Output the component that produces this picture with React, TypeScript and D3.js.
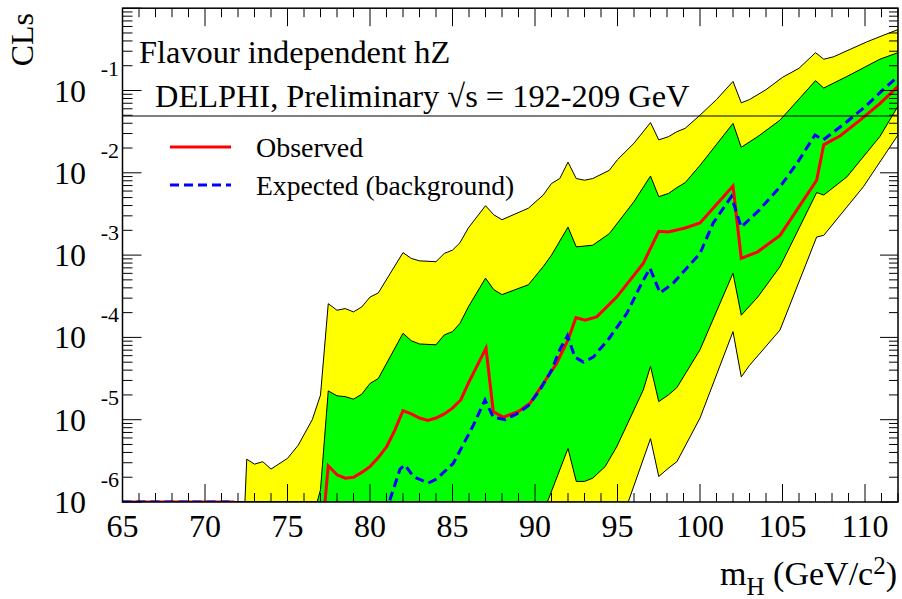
import React from 'react';
import * as d3 from 'd3';

// ---- data (mass in GeV/c^2, log10 of CLs) ----
const massTickLabels = [65, 70, 75, 80, 85, 90, 95, 100, 105, 110];
const decadeExponents = [-1, -2, -3, -4, -5, -6];

const yellowTopLog: [number, number][] = [
  [65, -6], [72.42, -6], [72.53, -5.48], [73.0, -5.54], [73.5, -5.51], [74.0, -5.6], [75.0, -5.47],
  [75.65, -5.31], [76.5, -5.0], [77.0, -4.7], [77.47, -3.59], [78.0, -3.67], [78.5, -3.65], [79.0, -3.69],
  [79.5, -3.63], [80.0, -3.51], [80.5, -3.46], [82.0, -2.97], [82.5, -3.04], [83.0, -3.07], [84.0, -3.08],
  [84.5, -2.98], [85.0, -2.94], [85.45, -2.85], [85.96, -2.67], [87.0, -2.4], [87.5, -2.51], [88.0, -2.57],
  [89.6, -2.43], [90.5, -2.27], [91.0, -2.13], [91.5, -2.07], [92.0, -1.87], [92.5, -2.07], [93.0, -2.09],
  [93.5, -2.07], [94.5, -1.97], [95.0, -1.84], [96.0, -1.64], [97.0, -1.39], [97.5, -1.6], [98.1, -1.56],
  [98.6, -1.5], [99.1, -1.46], [100.0, -1.3], [101.0, -1.11], [102.0, -0.89], [102.5, -1.15], [103.0, -1.11],
  [104.0, -0.99], [105.0, -0.84], [106.0, -0.73], [107.0, -0.54], [107.5, -0.62], [108.1, -0.59],
  [109.1, -0.5], [110.1, -0.41], [111.1, -0.33], [112.0, -0.26],
];

const greenTopLog: [number, number][] = [
  [65, -6], [76.8, -6], [77.0, -5.85], [77.47, -4.65], [78.0, -4.71], [78.5, -4.72], [79.0, -4.75],
  [79.5, -4.69], [80.0, -4.56], [80.5, -4.5], [82.0, -3.95], [82.5, -4.04], [83.0, -4.08], [84.0, -4.09],
  [84.5, -3.97], [85.0, -3.93], [85.45, -3.83], [85.96, -3.63], [87.0, -3.28], [87.5, -3.42], [88.0, -3.48],
  [89.6, -3.36], [90.5, -3.14], [91.0, -3.0], [92.0, -2.66], [92.5, -2.9], [93.5, -2.88], [94.5, -2.74],
  [95.0, -2.61], [96.0, -2.35], [97.0, -2.04], [97.5, -2.29], [98.1, -2.25], [98.6, -2.18], [99.1, -2.12],
  [100.0, -1.91], [102.0, -1.4], [102.5, -1.69], [103.5, -1.56], [104.85, -1.36], [107.0, -0.88],
  [107.5, -0.97], [108.9, -0.83], [110.9, -0.62], [112.0, -0.54],
];

const greenBottomLog: [number, number][] = [
  [65, -6], [90.75, -6], [92.0, -5.35], [92.5, -5.75], [93.0, -5.75], [93.5, -5.71], [94.25, -5.57],
  [94.95, -5.33], [96.56, -4.64], [97.0, -4.35], [97.5, -4.78], [98.08, -4.7], [98.6, -4.61], [100.0, -4.15],
  [102.0, -3.22], [102.5, -3.73], [103.5, -3.51], [104.85, -3.14], [107.07, -2.24], [107.5, -2.27],
  [108.9, -2.05], [110.9, -1.56], [112.0, -1.19],
];

const yellowBottomLog: [number, number][] = [
  [65, -6], [95.65, -6], [97.0, -5.23], [97.5, -5.69], [98.08, -5.59], [98.6, -5.51], [100.0, -4.98],
  [102.0, -3.93], [102.5, -4.48], [103.0, -4.34], [104.85, -3.91], [107.07, -2.78], [107.5, -2.76],
  [109.9, -2.17], [112.0, -1.54],
];

const observedLog: [number, number][] = [
  [65, -6], [71.7, -6], [72.2, -6.6], [77.0, -6.6], [77.47, -5.56], [78.0, -5.67], [78.5, -5.71],
  [79.0, -5.7], [79.5, -5.64], [80.0, -5.57], [80.5, -5.46], [81.0, -5.33], [81.5, -5.13], [82.0, -4.89],
  [82.5, -4.93], [83.0, -4.98], [83.5, -5.01], [84.0, -4.98], [84.5, -4.93], [85.0, -4.86], [85.5, -4.76],
  [86.0, -4.54], [87.03, -4.13], [87.47, -4.9], [88.08, -4.97], [89.0, -4.9], [89.7, -4.8], [90.5, -4.56],
  [91.3, -4.32], [92.0, -4.03], [92.48, -3.76], [93.03, -3.79], [93.74, -3.75], [94.95, -3.51],
  [96.56, -3.1], [97.5, -2.71], [98.08, -2.72], [99.1, -2.67], [100.0, -2.61], [102.0, -2.16],
  [102.5, -3.04], [103.5, -2.96], [104.85, -2.76], [107.07, -2.09], [107.5, -1.66], [108.5, -1.55],
  [109.7, -1.36], [110.9, -1.16], [112.0, -0.95],
];

const expectedLog: [number, number][] = [
  [65, -6], [71.7, -6], [72.2, -6.6], [80.5, -6.6], [81.0, -6.1], [81.82, -5.6], [82.12, -5.55],
  [82.62, -5.69], [83.53, -5.77], [84.04, -5.72], [85.05, -5.53], [86.26, -5.07], [86.97, -4.76],
  [87.47, -4.97], [88.18, -5.0], [88.89, -4.93], [89.6, -4.83], [90.3, -4.64], [91.0, -4.4], [91.5, -4.15],
  [91.97, -3.98], [92.42, -4.24], [92.93, -4.3], [93.53, -4.24], [94.5, -4.01], [95.56, -3.71],
  [96.47, -3.34], [96.97, -3.16], [97.58, -3.46], [98.38, -3.34], [99.19, -3.16], [100.0, -2.98],
  [100.8, -2.61], [101.9, -2.29], [102.5, -2.66], [103.6, -2.45], [104.85, -2.17], [105.86, -1.89],
  [106.97, -1.54], [107.47, -1.6], [108.9, -1.38], [110.1, -1.18], [111.1, -0.99], [112.0, -0.83],
];

// ---- layout ----
const W = 902;
const H = 599;
const L = 122.5;
const R = 898;
const T = 8.2;
const B = 502;
const FONT = "'Liberation Serif', 'Times New Roman', serif";

export default function App() {
  const x = d3.scaleLinear().domain([65, 112]).range([L, R]);
  const y = d3.scaleLog().domain([1e-6, 1]).range([B, T]);
  const line = d3
    .line<[number, number]>()
    .x((d) => x(d[0]))
    .y((d) => y(Math.pow(10, d[1])));
  const band = (up: [number, number][], lo: [number, number][]) =>
    (line(up.concat(lo.slice().reverse())) || '') + 'Z';

  const xTicks = d3.range(65, 113, 1);
  const yTicks = y.ticks();
  const isDecade = (v: number) => Math.abs(Math.log10(v) - Math.round(Math.log10(v))) < 1e-9;

  return (
    <svg
      width={W}
      height={H}
      style={{ position: 'absolute', left: 0, top: 0, background: '#fff' }}
      fontFamily={FONT}
    >
      <defs>
        <clipPath id="plotclip">
          <rect x={L} y={T} width={R - L} height={B - T} />
        </clipPath>
      </defs>
      <rect x={0} y={0} width={W} height={H} fill="#fff" />
      <g clipPath="url(#plotclip)">
        <path d={band(yellowTopLog, yellowBottomLog)} fill="#ffff00" stroke="#000" strokeWidth={1} />
        <path d={band(greenTopLog, greenBottomLog)} fill="#00ff00" stroke="#000" strokeWidth={1} />
        <path d={line(observedLog) || ''} fill="none" stroke="#ff0000" strokeWidth={3} />
        <path
          d={line(expectedLog) || ''}
          fill="none"
          stroke="#0000ff"
          strokeWidth={3}
          strokeDasharray="9,5"
        />
      </g>

      {/* header separator line */}
      <line x1={L} x2={R} y1={116} y2={116} stroke="#000" strokeWidth={1} />

      {/* frame */}
      <rect x={L} y={T} width={R - L} height={B - T} fill="none" stroke="#000" strokeWidth={1.5} />

      {/* x ticks bottom & top */}
      {xTicks.map((m) => {
        const major = m % 5 === 0;
        const len = major ? 18 : 9;
        return (
          <g key={'xt' + m}>
            <line x1={x(m)} x2={x(m)} y1={B} y2={B - len} stroke="#000" strokeWidth={1} />
            <line x1={x(m)} x2={x(m)} y1={T} y2={T + len} stroke="#000" strokeWidth={1} />
          </g>
        );
      })}
      {/* y ticks left & right */}
      {yTicks.map((v, i) => {
        const major = isDecade(v);
        const lenL = major ? 19 : 10;
        const lenR = major ? 18 : 9;
        return (
          <g key={'yt' + i}>
            <line x1={L} x2={L + lenL} y1={y(v)} y2={y(v)} stroke="#000" strokeWidth={1} />
            <line x1={R} x2={R - lenR} y1={y(v)} y2={y(v)} stroke="#000" strokeWidth={1} />
          </g>
        );
      })}

      {/* x tick labels */}
      {massTickLabels.map((m) => (
        <text key={'xl' + m} x={x(m)} y={537} textAnchor="middle" fontSize={32}>
          {m}
        </text>
      ))}
      {/* y tick labels */}
      {decadeExponents.map((e) => (
        <g key={'yl' + e}>
          <text x={86} y={y(Math.pow(10, e)) + 11} textAnchor="end" fontSize={32}>
            10
          </text>
          <text x={119} y={y(Math.pow(10, e)) - 15} textAnchor="end" fontSize={22}>
            {String(e)}
          </text>
        </g>
      ))}

      {/* axis titles */}
      <text x={897} y={585} textAnchor="end" fontSize={34}>
        <tspan>m</tspan>
        <tspan dy={10} fontSize={25}>H</tspan>
        <tspan dy={-10}> (GeV/c</tspan>
        <tspan dy={-11} fontSize={25}>2</tspan>
        <tspan dy={11}>)</tspan>
      </text>
      <text transform="translate(33,13) rotate(-90)" textAnchor="end" fontSize={32}>
        CLs
      </text>

      {/* in-plot texts */}
      <text x={139} y={63} fontSize={32.4}>
        Flavour independent hZ
      </text>
      <text x={155} y={107} fontSize={32.4}>
        DELPHI, Preliminary √s = 192-209 GeV
      </text>

      {/* legend */}
      <line x1={170} x2={231} y1={147} y2={147} stroke="#ff0000" strokeWidth={3} />
      <text x={256} y={157} fontSize={28}>
        Observed
      </text>
      <line x1={170} x2={231} y1={185} y2={185} stroke="#0000ff" strokeWidth={3} strokeDasharray="9,5" />
      <text x={256} y={195} fontSize={27.6}>
        Expected (background)
      </text>
    </svg>
  );
}
